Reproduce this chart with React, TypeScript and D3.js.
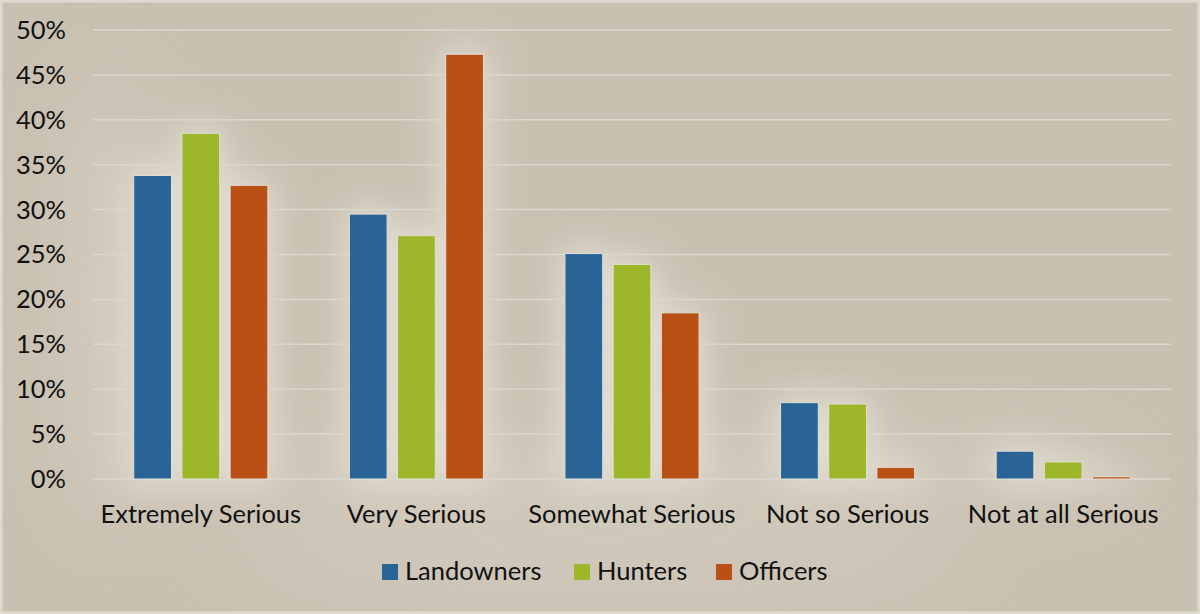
import React from 'react';
import { scaleBand, scaleLinear, range } from 'd3';

const categories = ['Extremely Serious', 'Very Serious', 'Somewhat Serious', 'Not so Serious', 'Not at all Serious'];
const seriesNames = ['Landowners', 'Hunters', 'Officers'];
const landowners = [33.8, 29.5, 25.1, 8.5, 3.1];
const hunters = [38.5, 27.1, 23.9, 8.35, 1.9];
const officers = [32.7, 47.3, 18.5, 1.3, 0.25];
const yTicks = [0, 5, 10, 15, 20, 25, 30, 35, 40, 45, 50];

const colors = ['#2A6496', '#9DB62A', '#B95114'];
const W = 1200;
const H = 614;
const FONT = 'Lato, "Noto Sans", sans-serif';
const FS = 25.5;

const App = () => {
  const series = [landowners, hunters, officers];
  const x0 = scaleBand<string>()
    .domain(categories)
    .range([93, 1171])
    .paddingInner(0.378)
    .paddingOuter(0.189);
  const x1 = scaleBand<number>()
    .domain(range(series.length))
    .range([0, x0.bandwidth()])
    .paddingInner(0.217)
    .paddingOuter(0);
  const y = scaleLinear().domain([0, 50]).range([479, 30]);

  const bars = categories.flatMap((c, i) =>
    series.map((s, k) => ({
      key: `${i}-${k}`,
      x: (x0(c) ?? 0) + (x1(k) ?? 0),
      y: y(s[i]),
      h: y(0) - y(s[i]),
      color: colors[k],
    }))
  );

  const legendX = [382, 574, 716];

  return (
    <svg
      width={W}
      height={H}
      style={{ position: 'absolute', left: 0, top: 0 }}
      fontFamily={FONT}
    >
      <defs>
        <filter id="glow" x="-50%" y="-50%" width="200%" height="200%">
          <feGaussianBlur stdDeviation="18" />
        </filter>
        <filter id="soft" x="-50%" y="-50%" width="200%" height="200%">
          <feGaussianBlur stdDeviation="40" />
        </filter>
      </defs>
      <rect x={0} y={0} width={W} height={H} fill="#C8C0B1" />
      <g filter="url(#soft)" opacity={0.55}>
        <ellipse cx={110} cy={300} rx={45} ry={230} fill="#DDD7CB" />
        <ellipse cx={600} cy={560} rx={380} ry={30} fill="#DDD7CB" />
        <ellipse cx={620} cy={470} rx={520} ry={30} fill="#DDD7CB" />
      </g>
      <g filter="url(#glow)" opacity={0.85}>
        {bars.map((b) => (
          <rect key={b.key} x={b.x - 8} y={b.y - 8} width={x1.bandwidth() + 16} height={b.h + 16} fill="#E4DFD4" />
        ))}
      </g>
      <rect x={1} y={1} width={W - 2} height={H - 2} fill="none" stroke="#DEDAD2" strokeWidth={3} />

      {yTicks.map((t) => (
        <g key={t}>
          <line x1={93} x2={1171} y1={y(t)} y2={y(t)} stroke="#DCD7CE" strokeWidth={1.5} />
          <text x={66} y={y(t)} dy="0.35em" textAnchor="end" fontSize={FS} fill="#111">
            {t}%
          </text>
        </g>
      ))}

      {bars.map((b) => (
        <rect
          key={b.key}
          x={b.x}
          y={b.y}
          width={x1.bandwidth()}
          height={Math.max(b.h, 1)}
          fill={b.color}
          stroke="#E2DED6"
          strokeWidth={1}
        />
      ))}

      {categories.map((c) => (
        <text
          key={c}
          x={(x0(c) ?? 0) + x0.bandwidth() / 2}
          y={523}
          textAnchor="middle"
          fontSize={FS}
          fill="#111"
        >
          {c}
        </text>
      ))}

      {seriesNames.map((n, k) => (
        <g key={n}>
          <rect x={legendX[k]} y={564} width={16} height={16} fill={colors[k]} />
          <text x={legendX[k] + 23} y={580} fontSize={FS} fill="#111">
            {n}
          </text>
        </g>
      ))}
    </svg>
  );
};

export default App;
